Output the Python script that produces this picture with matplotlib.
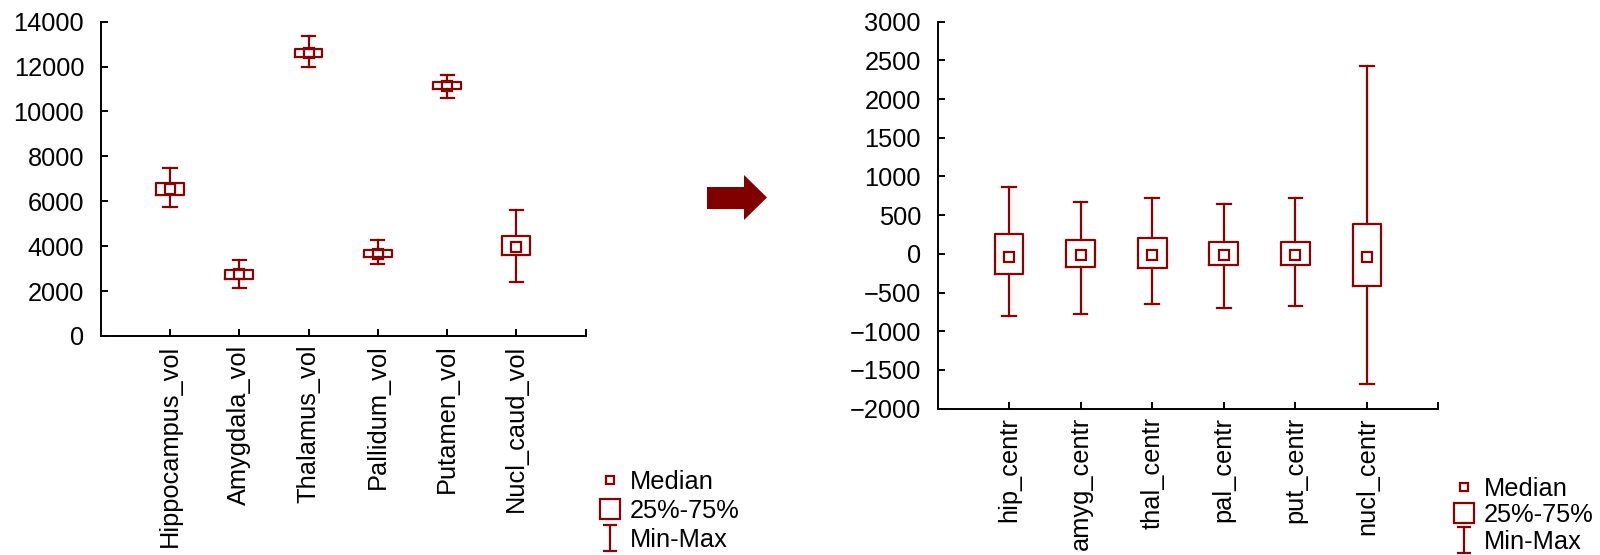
"""Box plots of structure volumes, raw and centred, side by side."""
import matplotlib
matplotlib.use("Agg")
import matplotlib.pyplot as plt
from matplotlib.lines import Line2D
from matplotlib.patches import Polygon
from matplotlib.path import Path

plt.rcParams["font.family"] = ["Liberation Sans", "DejaVu Sans"]

# raw volumes
vol_names = ["Hippocampus_vol", "Amygdala_vol", "Thalamus_vol", "Pallidum_vol", "Putamen_vol", "Nucl_caud_vol"]
vol_min = [5760, 2120, 12000, 3190, 10580, 2390]
vol_q1 = [6300, 2560, 12410, 3510, 10990, 3620]
vol_med = [6550, 2740, 12610, 3670, 11140, 3970]
vol_q3 = [6830, 2920, 12800, 3820, 11300, 4440]
vol_max = [7470, 3380, 13350, 4270, 11640, 5590]

# centred volumes
centr_names = ["hip_centr", "amyg_centr", "thal_centr", "pal_centr", "put_centr", "nucl_centr"]
centr_min = [-800, -775, -645, -700, -670, -1680]
centr_q1 = [-265, -165, -185, -140, -140, -415]
centr_med = [-45, -20, -20, -20, -20, -45]
centr_q3 = [255, 180, 205, 155, 155, 385]
centr_max = [870, 670, 720, 645, 720, 2425]

RED = "#8B0000"
FS = 18.3


def draw_panel(ax, names, lo, q1, med, q3, hi):
    pos = list(range(1, len(names) + 1))
    stats = [dict(whislo=a, q1=b, med=c, q3=d, whishi=e) for a, b, c, d, e in zip(lo, q1, med, q3, hi)]
    line = dict(color=RED, linewidth=1.6)
    ax.bxp(stats, positions=pos, widths=0.4, capwidths=0.19, showfliers=False,
           boxprops=line, whiskerprops=line, capprops=line,
           medianprops=dict(linestyle="none"), manage_ticks=False)
    ax.plot(pos, med, linestyle="none", marker="s", ms=7, mfc="none", mec=RED, mew=1.6)
    ax.set_xlim(0, len(names) + 1)
    ax.set_xticks(pos + [len(names) + 1], names + [""], rotation=90)
    for s in ("top", "right"):
        ax.spines[s].set_visible(False)
    for s in ("left", "bottom"):
        ax.spines[s].set_linewidth(1.4)
    ax.tick_params(direction="in", length=5, width=1.4, labelsize=FS)
    ax.tick_params(axis="x", pad=6)
    ax.tick_params(axis="y", pad=12)


ibeam = Path([(-0.55, 1), (0.55, 1), (0, 1), (0, -1), (-0.55, -1), (0.55, -1)],
             [Path.MOVETO, Path.LINETO, Path.MOVETO, Path.LINETO, Path.MOVETO, Path.LINETO])


def add_legend(fig, x, y, spacing):
    handles = [
        Line2D([], [], linestyle="none", marker="s", ms=5.5, mfc="none", mec=RED, mew=1.6),
        Line2D([], [], linestyle="none", marker="s", ms=14, mfc="none", mec=RED, mew=1.6),
        Line2D([], [], linestyle="none", marker=ibeam, ms=19, mfc="none", mec=RED, mew=1.6),
    ]
    fig.legend(handles, ["Median", "25%-75%", "Min-Max"], loc="upper left", bbox_to_anchor=(x, y),
               frameon=False, fontsize=FS, handlelength=1.0, handletextpad=0.3,
               labelspacing=spacing, borderpad=0, borderaxespad=0)


fig = plt.figure(figsize=(16, 5.55), dpi=100)

ax1 = fig.add_axes([0.063, 0.3946, 0.303, 0.5664])
draw_panel(ax1, vol_names, vol_min, vol_q1, vol_med, vol_q3, vol_max)
ax1.set_ylim(0, 14000)
ax1.set_yticks(range(0, 14001, 2000))

ax2 = fig.add_axes([0.586, 0.2636, 0.313, 0.6974])
draw_panel(ax2, centr_names, centr_min, centr_q1, centr_med, centr_q3, centr_max)
ax2.set_ylim(-2000, 3000)
ax2.set_yticks(range(-2000, 3001, 500))

add_legend(fig, 0.373, 0.154, 0.2)
add_legend(fig, 0.907, 0.141, 0.1)

# arrow between the panels (pixel outline, top-left origin)
W, H = 1600, 555
arrow_px = [(707, 187), (744, 187), (744, 175), (767, 197.5), (744, 220), (744, 209), (707, 209)]
fig.add_artist(Polygon([(px / W, 1 - py / H) for px, py in arrow_px], closed=True,
                       transform=fig.transFigure, facecolor="#800000", edgecolor="none"))

fig.savefig("out.png", dpi=100)
